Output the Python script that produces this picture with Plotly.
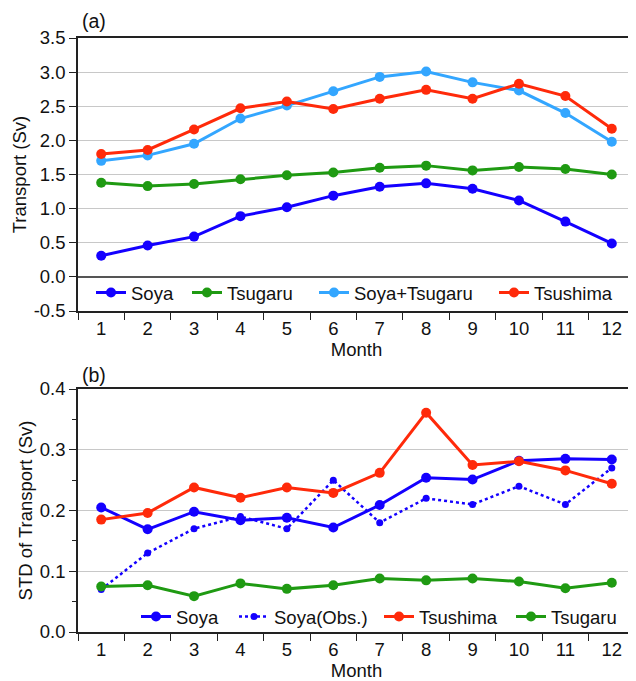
import plotly.graph_objects as go

months = list(range(1, 13))
month_labels = [str(m) for m in months]

# Panel (a): transport (Sv)
soya = [0.31, 0.46, 0.59, 0.89, 1.02, 1.19, 1.32, 1.37, 1.29, 1.12, 0.81, 0.49]
tsugaru = [1.38, 1.33, 1.36, 1.43, 1.49, 1.53, 1.60, 1.63, 1.56, 1.61, 1.58, 1.50]
soya_tsugaru = [1.70, 1.78, 1.95, 2.32, 2.51, 2.72, 2.93, 3.01, 2.85, 2.73, 2.40, 1.98]
tsushima = [1.80, 1.86, 2.16, 2.47, 2.57, 2.46, 2.61, 2.74, 2.61, 2.83, 2.65, 2.17]

# Panel (b): STD of transport (Sv)
std_soya = [0.205, 0.169, 0.198, 0.184, 0.188, 0.172, 0.209, 0.254, 0.251, 0.282, 0.285, 0.284]
std_soya_obs = [0.07, 0.13, 0.17, 0.19, 0.17, 0.25, 0.18, 0.22, 0.21, 0.24, 0.21, 0.27]
std_tsushima = [0.185, 0.196, 0.238, 0.221, 0.238, 0.229, 0.262, 0.361, 0.275, 0.281, 0.266, 0.244]
std_tsugaru = [0.075, 0.077, 0.059, 0.080, 0.071, 0.077, 0.088, 0.085, 0.088, 0.083, 0.072, 0.081]

a_ticks = [-0.5, 0.0, 0.5, 1.0, 1.5, 2.0, 2.5, 3.0, 3.5]
b_ticks = [0.0, 0.1, 0.2, 0.3, 0.4]

BLUE = "#1400ff"
GREEN = "#1f9a12"
LIGHTBLUE = "#33a6ff"
RED = "#ff2a0a"
FONT = "Liberation Sans, Arial, sans-serif"
FS = 18.5

# page body has an 8px margin: figure is 628x673 placed at (8, 8)
W, H = 628, 673
L, T, R, B = 70, 30, 1, 49
PH = H - T - B   # plot-area height (594)
PW = W - L - R   # plot-area width (557)
X0, Y0 = 78, 38  # reference-pixel position of plot-area top-left

def ydom(top_px, bot_px):
    return [1 - (bot_px - Y0) / PH, 1 - (top_px - Y0) / PH]

def px_x(p):
    return (p - X0) / PW

def px_y(p):
    return 1 - (p - Y0) / PH

fig = go.Figure()
legends = {}

def add(x, y, name, color, xa, ya, legend, text_x, leg_y, dash="solid", width=3, msize=10):
    fig.add_trace(go.Scatter(
        x=x, y=y, name=name, mode="lines+markers",
        line=dict(color=color, width=width, dash=dash),
        marker=dict(color=color, size=msize),
        xaxis=xa, yaxis=ya, legend=legend))
    legends[legend] = dict(
        orientation="h", x=px_x(text_x - 41), xanchor="left",
        y=px_y(leg_y), yanchor="middle",
        bgcolor="rgba(0,0,0,0)", font=dict(size=FS, color="#111"),
        itemwidth=30, tracegroupgap=0)

add(months, soya, "Soya", BLUE, "x", "y", "legend", 132, 293)
add(months, tsugaru, "Tsugaru", GREEN, "x", "y", "legend2", 228, 293)
add(months, soya_tsugaru, "Soya+Tsugaru", LIGHTBLUE, "x", "y", "legend3", 355, 293)
add(months, tsushima, "Tsushima", RED, "x", "y", "legend4", 535, 293)

add(months, std_soya, "Soya", BLUE, "x2", "y2", "legend5", 177, 617)
add(months, std_soya_obs, "Soya(Obs.)", BLUE, "x2", "y2", "legend6", 275, 617,
    dash="dot", width=2.5, msize=7)
add(months, std_tsushima, "Tsushima", RED, "x2", "y2", "legend7", 420, 617)
add(months, std_tsugaru, "Tsugaru", GREEN, "x2", "y2", "legend8", 552, 617)

half = [m - 0.5 for m in months] + [12.5]
xcommon = dict(
    range=[0.5, 12.5], tickmode="array", tickvals=months, ticktext=month_labels,
    ticks="", showgrid=False, zeroline=False, automargin=False,
    showline=True, mirror=True, linecolor="#222", linewidth=1.5,
    minor=dict(tickmode="array", tickvals=half, ticks="outside", ticklen=7,
               tickcolor="#222", tickwidth=1.2, showgrid=False),
    tickfont=dict(size=FS, color="#111"),
    title=dict(text="Month", font=dict(size=FS, color="#111"), standoff=0),
)
ycommon = dict(
    ticks="outside", ticklen=7, tickcolor="#222", tickwidth=1.2, automargin=False,
    showgrid=True, gridcolor="#c8c8c8", gridwidth=1,
    showline=True, mirror=True, linecolor="#222", linewidth=1.5,
    tickfont=dict(size=FS, color="#111"),
)

fig.update_layout(
    width=W, height=H,
    margin=dict(l=L, r=R, t=T, b=B, pad=0),
    paper_bgcolor="white", plot_bgcolor="white",
    font=dict(family=FONT, size=FS, color="#111"),
    showlegend=True,
    xaxis=dict(domain=[0, 1], anchor="y", **xcommon),
    xaxis2=dict(domain=[0, 1], anchor="y2", **xcommon),
    yaxis=dict(
        domain=ydom(38, 311), anchor="x", range=[-0.5, 3.5],
        tickmode="array", tickvals=a_ticks, ticktext=[f"{v:.1f}" for v in a_ticks],
        zeroline=True, zerolinecolor="#555", zerolinewidth=1.5,
        title=dict(text="Transport (Sv)", font=dict(size=FS, color="#111"), standoff=2),
        **ycommon,
    ),
    yaxis2=dict(
        domain=ydom(389, 632), anchor="x2", range=[0, 0.4],
        tickmode="array", tickvals=b_ticks, ticktext=[f"{v:.1f}" for v in b_ticks],
        minor=dict(dtick=0.05, tick0=0, ticks="outside", ticklen=4, tickcolor="#222", showgrid=False),
        zeroline=False,
        title=dict(text="STD of Transport (Sv)", font=dict(size=FS, color="#111"), standoff=2),
        **ycommon,
    ),
    annotations=[
        dict(text="(a)", x=px_x(80), y=px_y(21), xref="paper", yref="paper",
             xanchor="left", yanchor="middle", showarrow=False, font=dict(size=FS + 1, color="#111")),
        dict(text="(b)", x=px_x(80), y=px_y(375), xref="paper", yref="paper",
             xanchor="left", yanchor="middle", showarrow=False, font=dict(size=FS + 1, color="#111")),
    ],
    **legends,
)

fig.write_html("out.html")
